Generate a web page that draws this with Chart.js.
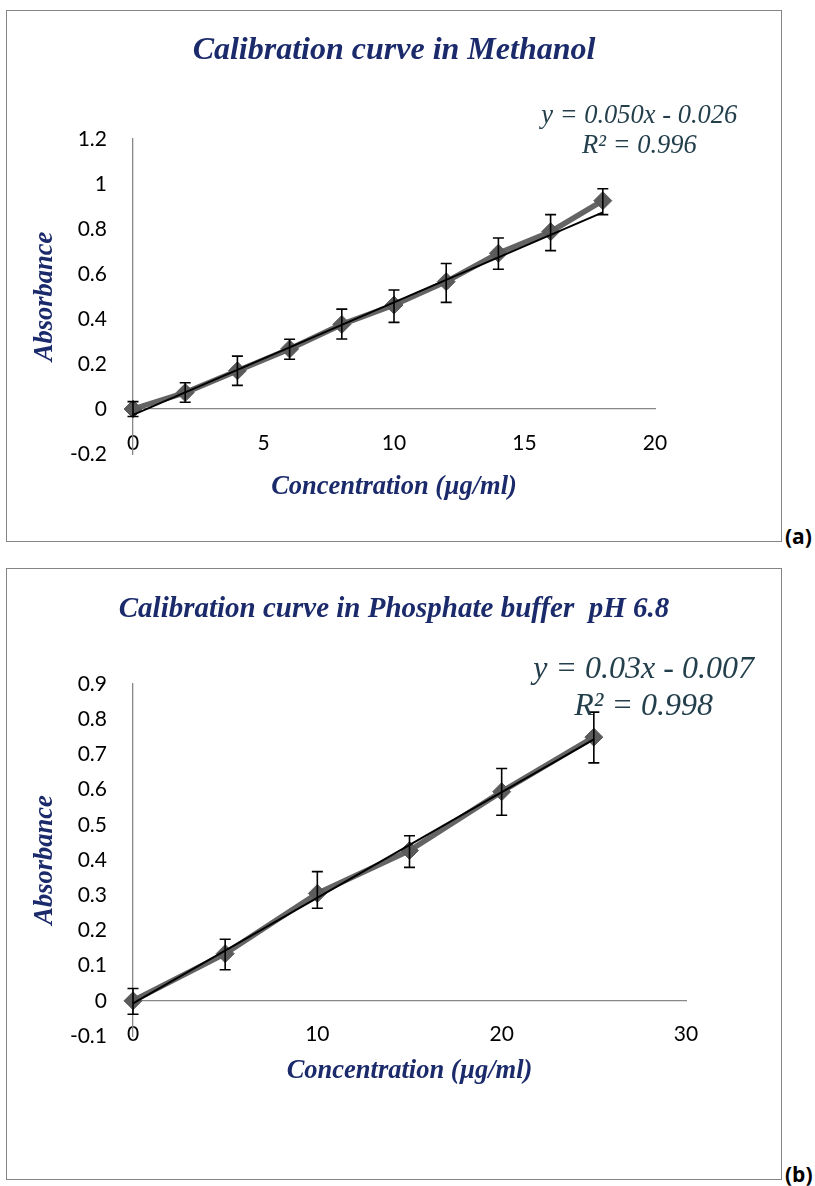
<!DOCTYPE html>
<html>
<head>
<meta charset="utf-8">
<script src="https://cdn.jsdelivr.net/npm/chart.js@4/dist/chart.umd.min.js"></script>
<style>
  html, body { margin: 0; padding: 0; background: #fff; }
  body { width: 815px; height: 1186px; position: relative; overflow: hidden; }
  .box { position: absolute; left: 6px; width: 776px; border: 1px solid #858585; box-sizing: border-box; }
  #boxA { top: 10px; height: 532px; }
  #boxB { top: 568px; height: 612px; }
  .box canvas { display: block; }
  .tag { position: absolute; left: 785px; font: bold 21px "Open Sans", Lato, sans-serif; color: #000; }
  #tagA { top: 522px; }
  #tagB { top: 1160px; }
</style>
</head>
<body>
<div class="box" id="boxA"><canvas id="cA" width="774" height="530"></canvas></div>
<div class="box" id="boxB"><canvas id="cB" width="774" height="610"></canvas></div>
<div class="tag" id="tagA">(a)</div>
<div class="tag" id="tagB">(b)</div>
<script>
// ---------- Data: chart (a) Methanol ----------
const concA = [0, 2, 4, 6, 8, 10, 12, 14, 16, 18];
const absA = [0, 0.073, 0.17, 0.267, 0.376, 0.462, 0.566, 0.692, 0.788, 0.926];
const errPlusA = [0.033, 0.044, 0.065, 0.043, 0.068, 0.067, 0.081, 0.068, 0.076, 0.053];
const errMinusA = [0.033, 0.043, 0.065, 0.046, 0.065, 0.077, 0.092, 0.071, 0.084, 0.062];
const slopeA = 0.050;
const interceptA = -0.026;
const xTicksA = [0, 5, 10, 15, 20];
const yTicksA = [-0.2, 0, 0.2, 0.4, 0.6, 0.8, 1, 1.2];
const eqA = ["y = 0.050x - 0.026", "R\u00B2 = 0.996"];
const titleA = "Calibration curve in Methanol";

// ---------- Data: chart (b) Phosphate buffer ----------
const concB = [0, 5, 10, 15, 20, 25];
const absB = [0, 0.134, 0.305, 0.427, 0.594, 0.749];
const errPlusB = [0.035, 0.041, 0.062, 0.042, 0.066, 0.071];
const errMinusB = [0.038, 0.046, 0.042, 0.048, 0.067, 0.073];
const slopeB = 0.03;
const interceptB = -0.007;
const xTicksB = [0, 10, 20, 30];
const yTicksB = [-0.1, 0, 0.1, 0.2, 0.3, 0.4, 0.5, 0.6, 0.7, 0.8, 0.9];
const eqB = ["y = 0.03x - 0.007", "R\u00B2 = 0.998"];
const titleB = "Calibration curve in Phosphate buffer  pH 6.8";

const axisTitleX = "Concentration (\u00B5g/ml)";
const axisTitleY = "Absorbance";

const NAVY = "#1b2a6b";
const EQCOL = "#243f4c";
const AXIS = "#878787";
const SERIF = '"Liberation Serif", "Times New Roman", serif';

const errorBarPlugin = {
  id: 'errorBars',
  afterDatasetsDraw(chart) {
    const ds = chart.data.datasets.find(d => d.errPlus);
    if (!ds) return;
    const xs = chart.scales.x, ys = chart.scales.y;
    const ctx = chart.ctx;
    ctx.save();
    ctx.strokeStyle = '#000';
    ctx.lineWidth = 1.6;
    ds.data.forEach((p, i) => {
      const px = xs.getPixelForValue(p.x);
      const yt = ys.getPixelForValue(p.y + ds.errPlus[i]);
      const yb = ys.getPixelForValue(p.y - ds.errMinus[i]);
      ctx.beginPath();
      ctx.moveTo(px, yt); ctx.lineTo(px, yb);
      ctx.moveTo(px - 5.5, yt); ctx.lineTo(px + 5.5, yt);
      ctx.moveTo(px - 5.5, yb); ctx.lineTo(px + 5.5, yb);
      ctx.stroke();
    });
    ctx.restore();
  }
};

const equationPlugin = {
  id: 'equation',
  afterDraw(chart, args, opts) {
    if (!opts || !opts.lines) return;
    const xs = chart.scales.x, ys = chart.scales.y;
    const ctx = chart.ctx;
    ctx.save();
    ctx.fillStyle = EQCOL;
    ctx.font = 'italic ' + opts.size + 'px ' + SERIF;
    ctx.textAlign = 'center';
    ctx.textBaseline = 'middle';
    opts.lines.forEach((t, i) => {
      ctx.fillText(t, xs.getPixelForValue(opts.x), ys.getPixelForValue(opts.y[i]));
    });
    ctx.restore();
  }
};

function makeChart(id, cfg) {
  const pts = cfg.conc.map((c, i) => ({x: c, y: cfg.abs[i]}));
  const x0 = cfg.conc[0], x1 = cfg.conc[cfg.conc.length - 1];
  const trend = [{x: x0, y: cfg.slope * x0 + cfg.intercept}, {x: x1, y: cfg.slope * x1 + cfg.intercept}];
  return new Chart(document.getElementById(id), {
    type: 'scatter',
    data: {
      datasets: [
        {
          label: 'Linear',
          data: trend,
          showLine: true,
          borderColor: '#000',
          borderWidth: 2,
          pointRadius: 0,
          clip: false
        },
        {
          label: 'Absorbance',
          data: pts,
          showLine: true,
          borderColor: '#646464',
          borderWidth: 5.5,
          pointStyle: 'rectRot',
          pointRadius: 9,
          pointBackgroundColor: '#5b5b5b',
          pointBorderColor: '#5b5b5b',
          pointBorderWidth: 1,
          errPlus: cfg.errPlus,
          errMinus: cfg.errMinus,
          clip: false
        }
      ]
    },
    options: {
      responsive: false,
      animation: false,
      events: [],
      layout: { padding: { left: 0, right: 0, top: 0, bottom: cfg.padBottom } },
      plugins: {
        legend: { display: false },
        tooltip: { enabled: false },
        title: {
          display: true,
          text: cfg.title,
          color: NAVY,
          font: { family: SERIF, size: cfg.titleSize, style: 'italic', weight: 'bold' },
          padding: { top: cfg.titleTop, bottom: cfg.titleBottom }
        },
        equation: { lines: cfg.eq, x: cfg.eqX, y: cfg.eqY, size: cfg.eqSize }
      },
      scales: {
        x: {
          type: 'linear',
          position: { y: 0 },
          min: cfg.xTicks[0],
          max: cfg.xTicks[cfg.xTicks.length - 1],
          afterBuildTicks: s => { s.ticks = cfg.xTicks.map(v => ({value: v})); },
          afterFit: s => { s.height = cfg.xHeight; },
          grid: { display: false, drawTicks: false },
          border: { display: true, color: AXIS, width: 1.3 },
          ticks: {
            color: '#000',
            padding: cfg.xTickPad,
            maxRotation: 0,
            font: { family: 'Lato, "Open Sans", sans-serif', size: 21 },
            callback: v => String(v)
          },
          title: {
            display: true,
            text: axisTitleX,
            color: NAVY,
            font: { family: SERIF, size: 26.5, style: 'italic', weight: 'bold' },
            padding: { top: 0, bottom: 0 }
          }
        },
        y: {
          type: 'linear',
          position: 'left',
          min: cfg.yTicks[0],
          max: cfg.yTicks[cfg.yTicks.length - 1],
          afterBuildTicks: s => { s.ticks = cfg.yTicks.map(v => ({value: v})); },
          afterFit: s => { s.width = 126; },
          grid: { display: false, drawTicks: false },
          border: { display: true, color: AXIS, width: 1.3 },
          ticks: {
            color: '#000',
            padding: 26,
            font: { family: 'Lato, "Open Sans", sans-serif', size: 21 },
            callback: v => String(parseFloat(Number(v).toFixed(2)))
          },
          title: {
            display: true,
            text: axisTitleY,
            color: NAVY,
            font: { family: SERIF, size: 26.5, style: 'italic', weight: 'bold' },
            padding: { top: 22, bottom: 0 }
          }
        },
        yRight: {
          type: 'linear',
          position: 'right',
          afterFit: s => { s.width = cfg.padRight; },
          grid: { display: false, drawTicks: false },
          border: { display: false },
          ticks: { display: false }
        }
      }
    },
    plugins: [errorBarPlugin, equationPlugin]
  });
}

makeChart('cA', {
  conc: concA, abs: absA, errPlus: errPlusA, errMinus: errMinusA,
  slope: slopeA, intercept: interceptA, xTicks: xTicksA, yTicks: yTicksA,
  title: titleA, titleSize: 32, titleTop: 21, titleBottom: 68.6,
  padRight: 126, padBottom: 87, xTickPad: 22, xHeight: 94,
  eq: eqA, eqX: 19.4, eqY: [1.302, 1.169], eqSize: 26.5
});

makeChart('cB', {
  conc: concB, abs: absB, errPlus: errPlusB, errMinus: errMinusB,
  slope: slopeB, intercept: interceptB, xTicks: xTicksB, yTicks: yTicksB,
  title: titleB, titleSize: 29, titleTop: 23.5, titleBottom: 56.7,
  padRight: 95, padBottom: 143, xTickPad: 21, xHeight: 86,
  eq: eqB, eqX: 27.7, eqY: [0.942, 0.835], eqSize: 32
});
</script>
</body>
</html>
